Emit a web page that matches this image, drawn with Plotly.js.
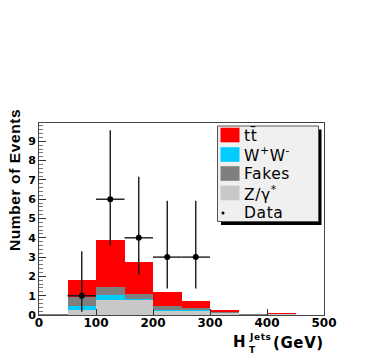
<!DOCTYPE html>
<html>
<head>
<meta charset="utf-8">
<script src="https://cdn.plot.ly/plotly-3.0.1.min.js"></script>
<style>html,body{margin:0;padding:0;background:#fff;}#chart{width:392px;height:354px;}
.annotation-text{letter-spacing:0.6px;}</style>
</head>
<body>
<div id="chart"></div>
<script>
// Bin centres of H_T^Jets (GeV), bin width 50
var binCenters = [25, 75, 125, 175, 225, 275, 325, 375, 425, 475];
// Stacked background contributions (events per bin)
var zgamma = [0.01, 0.28, 0.80, 0.77, 0.21, 0.19, 0.08, 0.02, 0.03, 0.005];
var wwVals = [0.00, 0.17, 0.22, 0.07, 0.07, 0.05, 0.02, 0.00, 0.00, 0.00];
var fakes  = [0.02, 0.48, 0.42, 0.23, 0.17, 0.13, 0.07, 0.01, 0.03, 0.00];
var ttbar  = [0.04, 0.86, 2.45, 1.68, 0.72, 0.33, 0.11, 0.03, 0.05, 0.01];
// Observed data with asymmetric (Poisson) errors
var dataX = [75, 125, 175, 225, 275];
var dataY = [1, 6, 4, 3, 3];
var dataErrUp = [2.30, 3.58, 3.16, 2.92, 2.92];
var dataErrDown = [0.83, 2.38, 1.91, 1.63, 1.63];
var dataErrX = [25, 25, 25, 25, 25];
var xTicks = [0, 100, 200, 300, 400, 500];
var yTicks = [0, 1, 2, 3, 4, 5, 6, 7, 8, 9];
// Legend entries (top to bottom)
var legendNames = ['tt\u0304', 'W<sup>+</sup>W<sup>-</sup>', 'Fakes', 'Z/\u03b3<sup>*</sup>', 'Data'];
var colors = {tt: '#ff0000', ww: '#00ccff', fk: '#7f7f7f', zg: '#c8c8c8'};

var FB = "DejaVu Sans, Liberation Sans, sans-serif";
var FN = "Liberation Sans Narrow, Liberation Sans, Arial, sans-serif";
function bar(name, vals, color) {
  return {type: 'bar', name: name, x: binCenters, y: vals, width: 50,
    marker: {color: color, line: {width: 0}}, hoverinfo: 'skip', showlegend: false};
}
var traces = [
  bar('Z/\u03b3*', zgamma, colors.zg),
  bar('W+W-', wwVals, colors.ww),
  bar('Fakes', fakes, colors.fk),
  bar('ttbar', ttbar, colors.tt),
  {type: 'scatter', mode: 'markers', name: 'Data', x: dataX, y: dataY, showlegend: false,
   marker: {color: '#000', size: 6},
   error_y: {type: 'data', symmetric: false, array: dataErrUp, arrayminus: dataErrDown, color: '#1a1a1a', thickness: 1.4, width: 0},
   error_x: {type: 'data', array: dataErrX, color: '#1a1a1a', thickness: 1.4, width: 0}}
];

// pixel -> paper helpers (plot area spans x 39..324, y 123..315)
var L = 39, R = 324, T = 123, B = 315;
function PX(p) { return (p - L) / (R - L); }
function PY(p) { return (B - p) / (B - T); }

var shapes = [
  // legend shadow and box
  {type: 'rect', xref: 'paper', yref: 'paper', x0: PX(221), x1: PX(321.5), y0: PY(225), y1: PY(129.5),
   line: {width: 0}, fillcolor: '#000', layer: 'above'},
  {type: 'rect', xref: 'paper', yref: 'paper', x0: PX(217.5), x1: PX(318.5), y0: PY(221.5), y1: PY(126),
   line: {width: 1, color: '#555'}, fillcolor: '#f0f0f0', layer: 'above'}
];
var rowY = [135, 154.5, 173.5, 193, 213];
var swatchCols = [colors.tt, colors.ww, colors.fk, colors.zg];
swatchCols.forEach(function (c, i) {
  shapes.push({type: 'rect', xref: 'paper', yref: 'paper', x0: PX(220.5), x1: PX(239.5),
    y0: PY(rowY[i] + 7.3), y1: PY(rowY[i] - 7.3), line: {width: 0}, fillcolor: c, layer: 'above'});
});
shapes.push({type: 'circle', xref: 'paper', yref: 'paper', x0: PX(221.5), x1: PX(224.5),
  y0: PY(rowY[4] + 1.5), y1: PY(rowY[4] - 1.5), line: {width: 0}, fillcolor: '#000', layer: 'above'});

var annotations = [
  {xref: 'paper', yref: 'paper', x: PX(14), y: PY(180), text: 'Number of Events', textangle: -90,
   showarrow: false, font: {family: FN, size: 15.5, color: '#000', weight: 'bold'}, xanchor: 'center', yanchor: 'middle'},
  {xref: 'paper', yref: 'paper', x: PX(231), y: PY(341.5), yanchor: 'middle', xanchor: 'left', showarrow: false,
   text: 'H', font: {family: FB, size: 15, color: '#000', weight: 'bold'}},
  {xref: 'paper', yref: 'paper', x: PX(246.5), y: PY(337), yanchor: 'middle', xanchor: 'left', showarrow: false,
   text: 'Jets', font: {family: FB, size: 9, color: '#000', weight: 'bold'}},
  {xref: 'paper', yref: 'paper', x: PX(246.5), y: PY(349.5), yanchor: 'middle', xanchor: 'left', showarrow: false,
   text: 'T', font: {family: FB, size: 9, color: '#000', weight: 'bold'}},
  {xref: 'paper', yref: 'paper', x: PX(270.5), y: PY(343), yanchor: 'middle', xanchor: 'left', showarrow: false,
   text: '(GeV)', font: {family: FB, size: 15, color: '#000', weight: 'bold'}}
];
legendNames.forEach(function (n, i) {
  annotations.push({xref: 'paper', yref: 'paper', x: PX(242), y: PY(rowY[i]), xanchor: 'left', yanchor: 'middle',
    showarrow: false, text: n, font: {family: FB, size: 15.5, color: '#000'}});
});

var layout = {
  width: 392, height: 354,
  margin: {l: L, r: 392 - R, t: T, b: 354 - B},
  paper_bgcolor: '#fff', plot_bgcolor: '#fff',
  barmode: 'stack', bargap: 0,
  showlegend: false,
  xaxis: {range: [0, 500], tickvals: xTicks, ticks: 'inside', ticklen: 6, tickcolor: '#333', tickwidth: 1,
    showgrid: false, zeroline: false, showline: true, linecolor: '#444', mirror: true, ticklabelstandoff: -3,
    tickfont: {family: FB, size: 12, color: '#000', weight: 'bold'}},
  yaxis: {range: [0, 9.95], tickvals: yTicks, ticks: 'inside', ticklen: 7, tickcolor: '#333', tickwidth: 1,
    minor: {dtick: 0.2, ticks: 'inside', ticklen: 3.5, tickcolor: '#777'},
    showgrid: false, zeroline: false, showline: true, linecolor: '#444', mirror: true,
    tickfont: {family: FB, size: 11, color: '#000', weight: 'bold'}},
  shapes: shapes,
  annotations: annotations
};
Plotly.newPlot('chart', traces, layout, {displayModeBar: false, staticPlot: true});
</script>
</body>
</html>
